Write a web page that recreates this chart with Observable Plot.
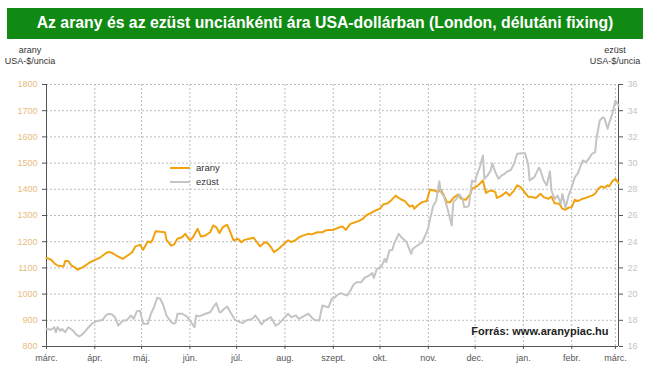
<!DOCTYPE html>
<html><head><meta charset="utf-8">
<script src="https://cdn.jsdelivr.net/npm/d3@7"></script>
<script src="https://cdn.jsdelivr.net/npm/@observablehq/plot@0.6"></script>
<style>
body{margin:0;background:#fff;width:650px;height:384px;position:relative;overflow:hidden;font-family:"Liberation Sans",Arial,sans-serif;}
#title{position:absolute;left:7px;top:8px;width:636px;height:31px;background:#108a13;color:#fff;font-weight:bold;font-size:15.8px;line-height:30px;text-align:center;white-space:nowrap;}
.axt{position:absolute;width:60px;font-size:9px;color:#333;text-align:center;line-height:11px;font-family:"Liberation Sans Narrow","Liberation Sans",Arial,sans-serif;}
#legend{position:absolute;left:170px;top:161px;font-size:9.5px;color:#333;line-height:14px;font-family:"Liberation Sans Narrow","Liberation Sans",Arial,sans-serif;}
#legend span{display:inline-block;width:20px;height:2px;vertical-align:middle;margin-right:6px;}
#chart{position:absolute;left:0;top:40px;}
</style></head>
<body>
<div id="title">Az arany és az ezüst unciánkénti ára USA-dollárban (London, délutáni fixing)</div>
<div class="axt" style="left:0px;top:45px">arany<br>USA-$/uncia</div>
<div class="axt" style="left:585px;top:45px">ezüst<br>USA-$/uncia</div>
<div id="legend"><div><span style="background:#F0A20F"></span>arany</div><div><span style="background:#C4C4C4"></span>ezüst</div></div>
<div id="chart"></div>
<script>
const goldSeries = [["2010-03-01",1138],["2010-03-04",1131],["2010-03-06",1118],["2010-03-08",1109],["2010-03-10",1107],["2010-03-12",1106],["2010-03-13",1126],["2010-03-15",1126],["2010-03-17",1109],["2010-03-19",1103],["2010-03-21",1093],["2010-03-23",1099],["2010-03-25",1105],["2010-03-28",1118],["2010-03-31",1128],
["2010-04-04",1138],["2010-04-07",1151],["2010-04-09",1160],["2010-04-11",1160],["2010-04-13",1154],["2010-04-16",1143],["2010-04-19",1135],["2010-04-21",1143],["2010-04-23",1151],["2010-04-25",1160],["2010-04-27",1182],["2010-04-30",1188],
["2010-05-02",1169],["2010-05-05",1201],["2010-05-07",1197],["2010-05-08",1207],["2010-05-10",1240],["2010-05-13",1238],["2010-05-16",1236],["2010-05-17",1207],["2010-05-20",1185],["2010-05-22",1190],["2010-05-24",1211],["2010-05-27",1217],["2010-05-29",1230],
["2010-06-01",1205],["2010-06-03",1217],["2010-06-06",1249],["2010-06-08",1220],["2010-06-11",1224],["2010-06-14",1236],["2010-06-16",1262],["2010-06-18",1255],["2010-06-20",1233],["2010-06-22",1255],["2010-06-24",1262],["2010-06-25",1264],["2010-06-27",1236],["2010-06-29",1205],
["2010-07-02",1211],["2010-07-04",1198],["2010-07-06",1207],["2010-07-09",1211],["2010-07-12",1215],["2010-07-14",1198],["2010-07-16",1182],["2010-07-19",1198],["2010-07-21",1194],["2010-07-23",1179],["2010-07-25",1160],["2010-07-28",1173],
["2010-08-01",1195],["2010-08-03",1205],["2010-08-05",1198],["2010-08-08",1207],["2010-08-10",1217],["2010-08-13",1224],["2010-08-16",1230],["2010-08-18",1228],["2010-08-22",1236],["2010-08-25",1236],["2010-08-27",1243],["2010-08-29",1245],
["2010-09-01",1245],["2010-09-05",1255],["2010-09-07",1258],["2010-09-09",1245],["2010-09-12",1268],["2010-09-15",1274],["2010-09-18",1281],["2010-09-20",1287],["2010-09-22",1300],["2010-09-25",1309],["2010-09-28",1319],
["2010-10-01",1326],["2010-10-03",1342],["2010-10-06",1347],["2010-10-08",1357],["2010-10-11",1376],["2010-10-13",1367],["2010-10-15",1360],["2010-10-17",1355],["2010-10-20",1334],["2010-10-22",1338],["2010-10-23",1326],["2010-10-25",1338],["2010-10-28",1351],["2010-10-31",1355],
["2010-11-02",1398],["2010-11-05",1395],["2010-11-07",1389],["2010-11-09",1398],["2010-11-11",1376],["2010-11-13",1351],["2010-11-15",1351],["2010-11-17",1367],["2010-11-20",1380],["2010-11-22",1364],["2010-11-25",1360],["2010-11-28",1383],["2010-11-29",1402],
["2010-12-02",1411],["2010-12-04",1421],["2010-12-06",1434],["2010-12-08",1386],["2010-12-10",1393],["2010-12-12",1395],["2010-12-14",1389],["2010-12-15",1367],["2010-12-18",1376],["2010-12-21",1389],["2010-12-23",1376],["2010-12-26",1395],["2010-12-28",1415],["2010-12-30",1409],
["2011-01-01",1395],["2011-01-04",1372],["2011-01-07",1370],["2011-01-09",1367],["2011-01-12",1383],["2011-01-14",1370],["2011-01-17",1364],["2011-01-19",1372],["2011-01-21",1347],["2011-01-24",1345],["2011-01-26",1326],["2011-01-28",1322],["2011-01-30",1330],
["2011-02-01",1332],["2011-02-03",1360],["2011-02-05",1355],["2011-02-08",1364],["2011-02-10",1367],["2011-02-12",1372],["2011-02-14",1376],["2011-02-16",1383],["2011-02-18",1402],["2011-02-20",1411],["2011-02-22",1406],["2011-02-24",1415],["2011-02-25",1411],["2011-02-27",1431],
["2011-03-01",1440],["2011-03-03",1424]];

const silverSeries = [["2010-03-01",17.35],["2010-03-04",17.28],["2010-03-06",17.47],["2010-03-07",17.09],["2010-03-08",17.47],["2010-03-10",17.2],["2010-03-11",17.35],["2010-03-13",17.09],["2010-03-15",17.47],["2010-03-18",17.22],["2010-03-20",16.92],["2010-03-22",16.76],["2010-03-24",16.92],["2010-03-26",17.2],["2010-03-28",17.47],["2010-03-30",17.73],
["2010-04-02",17.93],["2010-04-06",18.03],["2010-04-08",18.37],["2010-04-10",18.5],["2010-04-12",18.44],["2010-04-14",18.24],["2010-04-16",17.6],["2010-04-19",17.98],["2010-04-21",17.98],["2010-04-23",18.19],["2010-04-24",18.37],["2010-04-26",18.12],["2010-04-28",18.7],["2010-04-30",18.72],
["2010-05-02",17.73],["2010-05-05",17.73],["2010-05-07",18.5],["2010-05-09",19.0],["2010-05-11",19.72],["2010-05-13",19.65],["2010-05-15",19.13],["2010-05-17",18.37],["2010-05-20",17.86],["2010-05-22",17.73],["2010-05-23",17.86],["2010-05-24",18.5],["2010-05-27",18.5],["2010-05-30",18.3],
["2010-06-01",17.98],["2010-06-04",17.47],["2010-06-05",18.37],["2010-06-07",18.3],["2010-06-11",18.5],["2010-06-14",18.62],["2010-06-16",19.0],["2010-06-18",19.31],["2010-06-20",18.62],["2010-06-21",18.62],["2010-06-23",18.88],["2010-06-25",19.05],["2010-06-27",18.62],["2010-06-30",18.03],
["2010-07-03",17.86],["2010-07-05",17.79],["2010-07-07",17.98],["2010-07-11",18.11],["2010-07-13",18.37],["2010-07-15",18.03],["2010-07-17",17.68],["2010-07-19",17.98],["2010-07-21",18.11],["2010-07-23",18.24],["2010-07-26",17.6],["2010-07-28",17.73],
["2010-08-01",18.24],["2010-08-03",18.5],["2010-08-05",18.24],["2010-08-08",18.37],["2010-08-10",18.11],["2010-08-12",18.24],["2010-08-14",18.37],["2010-08-16",18.5],["2010-08-18",18.24],["2010-08-20",18.03],["2010-08-23",17.98],["2010-08-25",19.13],["2010-08-27",19.05],["2010-08-29",19.0],["2010-08-31",19.64],
["2010-09-02",19.76],["2010-09-04",19.97],["2010-09-06",20.07],["2010-09-08",19.97],["2010-09-10",19.89],["2010-09-12",20.27],["2010-09-14",20.73],["2010-09-16",20.91],["2010-09-19",20.91],["2010-09-21",21.24],["2010-09-24",21.42],["2010-09-26",21.6],["2010-09-27",21.24],["2010-09-29",21.93],
["2010-10-02",22.11],["2010-10-04",22.69],["2010-10-05",22.44],["2010-10-07",23.33],["2010-10-09",23.38],["2010-10-10",23.84],["2010-10-13",24.6],["2010-10-15",24.3],["2010-10-17",24.09],["2010-10-18",23.96],["2010-10-21",23.08],["2010-10-22",23.46],["2010-10-25",23.71],["2010-10-28",23.96],["2010-10-30",24.47],
["2010-11-01",25.06],["2010-11-02",25.67],["2010-11-04",26.69],["2010-11-06",27.1],["2010-11-08",28.62],["2010-11-09",27.78],["2010-11-11",27.45],["2010-11-13",26.64],["2010-11-16",25.24],["2010-11-17",27.02],["2010-11-19",27.27],["2010-11-21",27.6],["2010-11-23",27.27],["2010-11-24",26.64],["2010-11-26",26.67],["2010-11-27",26.76],["2010-11-29",28.67],
["2010-12-01",28.54],["2010-12-02",29.06],["2010-12-04",29.69],["2010-12-06",30.58],["2010-12-07",28.8],["2010-12-09",29.06],["2010-12-11",29.43],["2010-12-12",29.99],["2010-12-14",29.31],["2010-12-16",28.8],["2010-12-18",29.06],["2010-12-20",29.18],["2010-12-21",29.31],["2010-12-24",29.49],["2010-12-26",29.95],["2010-12-28",30.71],["2010-12-31",30.76],
["2011-01-02",30.76],["2011-01-04",29.95],["2011-01-05",28.67],["2011-01-08",28.93],["2011-01-09",29.18],["2011-01-11",29.64],["2011-01-12",29.43],["2011-01-14",28.67],["2011-01-16",28.29],["2011-01-18",29.38],["2011-01-19",27.9],["2011-01-21",27.27],["2011-01-23",27.52],["2011-01-25",26.89],["2011-01-26",27.65],["2011-01-28",26.59],["2011-01-30",27.52],
["2011-02-01",28.16],["2011-02-03",28.93],["2011-02-05",29.23],["2011-02-08",30.2],["2011-02-10",30.07],["2011-02-12",30.33],["2011-02-14",30.71],["2011-02-16",30.83],["2011-02-17",31.98],["2011-02-19",33.25],["2011-02-21",33.5],["2011-02-22",33.4],["2011-02-24",32.62],["2011-02-25",33.05],["2011-02-27",33.76],
["2011-03-01",34.78],["2011-03-03",34.4]];

const monthTicks = ["2010-03-01","2010-04-01","2010-05-01","2010-06-01","2010-07-01","2010-08-01","2010-09-01","2010-10-01","2010-11-01","2010-12-01","2011-01-01","2011-02-01","2011-03-01"];
const monthLabels = ["márc.","ápr.","máj.","jún.","júl.","aug.","szept.","okt.","nov.","dec.","jan.","febr.","márc."];
const goldTicks = [800,900,1000,1100,1200,1300,1400,1500,1600,1700,1800];
const silverTicks = [16,18,20,22,24,26,28,30,32,34,36];
const xDomain = ["2010-03-01","2011-03-03"];
const sourceText = "Forrás: www.aranypiac.hu";

const parse = s => new Date(s + "T00:00:00Z");
const gold = goldSeries.map(([d,v]) => ({date: parse(d), value: v}));
const silver = silverSeries.map(([d,v]) => ({date: parse(d), value: v}));
const tickDates = monthTicks.map(parse);
const labelOf = new Map(tickDates.map((d,i) => [+d, monthLabels[i]]));
// secondary (silver) axis mapped onto the gold scale: 16..36 <-> 800..1800
const toGold = s => 800 + (s - 16) * 50;
const silverOf = new Map(goldTicks.map((g,i) => [g, silverTicks[i]]));
const dom = xDomain.map(parse);
const font = '"Liberation Sans Narrow","Liberation Sans",Arial,sans-serif';

const chart = Plot.plot({
  width: 650, height: 344,
  marginTop: 44, marginBottom: 38, marginLeft: 46, marginRight: 32,
  style: {fontFamily: font, fontSize: "9px", background: "transparent", overflow: "visible"},
  x: {type: "utc", domain: dom},
  y: {domain: [800, 1800]},
  marks: [
    Plot.gridY(goldTicks, {stroke: "#bdbdbd", strokeOpacity: 1, strokeDasharray: "2,2"}),
    Plot.gridX(tickDates, {stroke: "#bdbdbd", strokeOpacity: 1, strokeDasharray: "2,2"}),
    Plot.ruleX([dom[0]], {stroke: "#555"}),
    Plot.ruleX([dom[1]], {stroke: "#555"}),
    Plot.ruleY([800], {stroke: "#555"}),
    Plot.axisY(goldTicks, {anchor: "left", label: null, tickSize: 4, tickPadding: 5, stroke: "#555", fill: "#E9BC7E", tickFormat: g => String(g)}),
    Plot.axisY(goldTicks, {anchor: "right", label: null, tickSize: 4, tickPadding: 5, stroke: "#555", fill: "#C4C4C4", tickFormat: g => String(silverOf.get(g))}),
    Plot.axisX(tickDates, {label: null, tickSize: 3, tickPadding: 5, stroke: "#555", fill: "#555", tickFormat: d => labelOf.get(+d)}),
    Plot.lineY(gold, {x: "date", y: "value", stroke: "#F0A20F", strokeWidth: 2}),
    Plot.lineY(silver, {x: "date", y: d => toGold(d.value), stroke: "#C4C4C4", strokeWidth: 2}),
    Plot.text([sourceText], {frameAnchor: "bottom-right", dx: -10, dy: -15, lineAnchor: "middle", textAnchor: "end", fontWeight: "bold", fontSize: 11, fill: "#222", fontFamily: '"Liberation Sans",Arial,sans-serif'})
  ]
});
document.getElementById("chart").appendChild(chart);
</script>
</body></html>
